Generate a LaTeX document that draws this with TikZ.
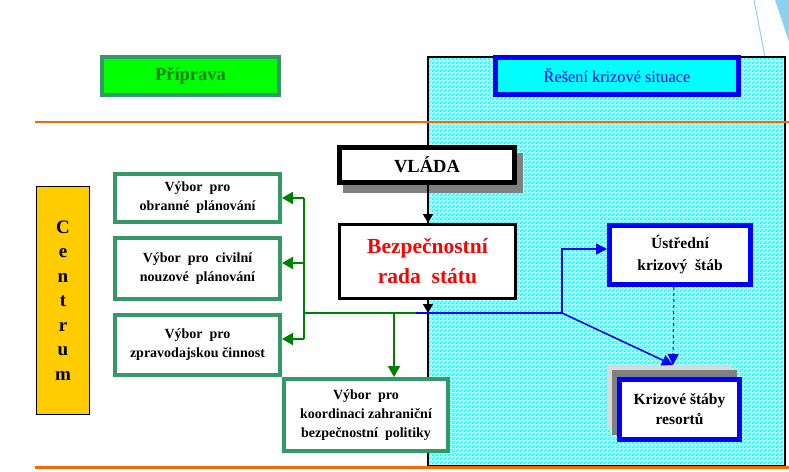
\documentclass[tikz,border=0pt]{standalone}
\usepackage{fontspec}
\setmainfont{Liberation Serif}
\usetikzlibrary{arrows.meta,patterns}
\definecolor{vgreen}{RGB}{51,153,102}
\definecolor{agreen}{RGB}{0,128,0}
\definecolor{lgreen}{RGB}{0,255,0}
\definecolor{orng}{RGB}{255,102,0}
\definecolor{gold}{RGB}{255,204,0}
\definecolor{deco}{RGB}{140,210,240}
\definecolor{mcyan}{RGB}{0,255,255}
\definecolor{mblue}{RGB}{0,0,255}
\definecolor{mred}{RGB}{255,0,0}
\pgfdeclarepatternformonly{checker}{\pgfqpoint{0pt}{0pt}}{\pgfqpoint{4pt}{4pt}}{\pgfqpoint{4pt}{4pt}}{%
  \pgfpathrectangle{\pgfqpoint{0pt}{0pt}}{\pgfqpoint{2pt}{2pt}}%
  \pgfpathrectangle{\pgfqpoint{2pt}{2pt}}{\pgfqpoint{2pt}{2pt}}%
  \pgfusepath{fill}}
\tikzset{
  vybor/.style={draw=vgreen, line width=4pt, fill=white, align=center,
    font=\fontsize{14}{19}\selectfont\bfseries, inner sep=0pt},
  bluebox/.style={draw=mblue, line width=5pt, fill=white, align=center, inner sep=0pt},
  garrow/.style={draw=agreen, line width=2pt, -{Triangle[length=11pt,width=12pt]}},
  gline/.style={draw=agreen, line width=2pt},
  barrow/.style={draw=mblue, line width=1.6pt, -{Triangle[length=11pt,width=11pt]}},
  karrow/.style={draw=black, line width=1.6pt, -{Triangle[length=9pt,width=10pt]}},
  orline/.style={draw=orng, line width=2.5pt},
}
\begin{document}
\begin{tikzpicture}[x=1pt,y=-1pt]
\useasboundingbox (0,0) rectangle (789,471);
\fill[white] (0,0) rectangle (789,471);
% decoration top right
\draw[deco, line width=1pt] (754,0) -- (765,57);
\fill[deco] (775,0) -- (789,0) -- (789,42) -- cycle;
% crisis area
\fill[mcyan!30!white] (428,57) rectangle (785,466);
\fill[pattern=checker, pattern color=mcyan] (428,57) rectangle (785,466);
\draw[black, line width=2pt] (428,57) rectangle (785,466);
% orange lines
\draw[orline] (35,122) -- (789,122);
\draw[orline, line width=3pt] (35,467.5) -- (789,467.5);
% header boxes
\node[draw=vgreen, line width=4pt, fill=lgreen, minimum width=177pt, minimum height=38pt,
  text=agreen, font=\fontsize{18.5}{20}\selectfont\bfseries] (prip) at (190.5,76) {Příprava};
\node[draw=mblue, line width=5pt, fill=mcyan, minimum width=243pt, minimum height=37pt,
  text=mblue, font=\fontsize{16.3}{18}\selectfont] (resen) at (617,76) {Řešení krizové situace};
% Centrum
\node[draw=black, line width=1.2pt, fill=gold, minimum width=53pt, minimum height=228pt,
  align=center, font=\fontsize{19}{24.5}\selectfont\bfseries] (centrum) at (63,300.5)
  {C\\e\\n\\t\\r\\u\\m};
% committees
\node[vybor, minimum width=165pt, minimum height=48pt] (v1) at (197.5,198)
  {Výbor\ \ pro\\obranné\ \ plánování};
\node[vybor, minimum width=165pt, minimum height=61pt] (v2) at (197.5,268.5)
  {Výbor\ \ pro\ \ civilní\\nouzové\ \ plánování};
\node[vybor, minimum width=165pt, minimum height=60pt] (v3) at (197.5,345)
  {Výbor\ \ pro\\zpravodajskou činnost};
\node[vybor, minimum width=164pt, minimum height=72pt] (v4) at (366,415)
  {Výbor\ \ pro\\koordinaci zahraniční\\bezpečnostní\ \ politiky};
% government
\fill[gray] (343,153) rectangle (523,193);
\node[draw=black, line width=5pt, fill=white, minimum width=175pt, minimum height=35pt,
  font=\fontsize{18.5}{20}\selectfont\bfseries] (vlada) at (427,165) {VLÁDA};
\node[draw=black, line width=3pt, fill=white, minimum width=176pt, minimum height=74pt,
  align=center, text=mred, font=\fontsize{21.5}{30}\selectfont\bfseries] (brs) at (427.5,261.5)
  {Bezpečnostní\\rada\ \ státu};
% crisis staffs
\node[bluebox, minimum width=141pt, minimum height=59pt,
  font=\fontsize{15.5}{22}\selectfont\bfseries] (ust) at (680,255) {Ústřední\\krizový\ \ štáb};
\fill[black!15] (607,365) rectangle (732,430);
\fill[gray] (612,370) rectangle (737,435);
\node[bluebox, minimum width=120pt, minimum height=60pt,
  font=\fontsize{15.5}{20}\selectfont\bfseries] (ks) at (679.5,409.5) {Krizové štáby\\resortů};
% coordinates
\coordinate (gtop) at (304,198);
\coordinate (gmid) at (304,263);
\coordinate (gbot) at (304,339);
\coordinate (gj) at (304,313);
\coordinate (gx) at (394,313);
\coordinate (gend) at (416,313);
\coordinate (bj) at (428,313);
\coordinate (bc) at (562,313);
\coordinate (bu) at (562,249);
\coordinate (kt) at (673,365);
\coordinate (ud) at (674,287);
% green connectors
\draw[gline] (gtop) -- (gbot);
\draw[gline] (gj) -- (gend);
\draw[garrow] (gtop) -- (v1.east |- gtop);
\draw[garrow] (gmid) -- (v2.east |- gmid);
\draw[garrow] (gbot) -- (v3.east |- gbot);
\draw[garrow] (gx) -- (gx |- v4.north);
% black connectors
\draw[karrow] (vlada.south -| bj) -- (brs.north -| bj);
\draw[karrow] (brs.south -| bj) -- (bj);
% blue connectors
\draw[draw=mblue, line width=1.6pt] (gend) -- (bc);
\draw[barrow] (bc) -- (bu) -- (ust.west |- bu);
\draw[barrow] (bc) -- (kt);
\draw[barrow, dashed, line width=1pt] (ud) -- (kt);
\end{tikzpicture}
\end{document}
